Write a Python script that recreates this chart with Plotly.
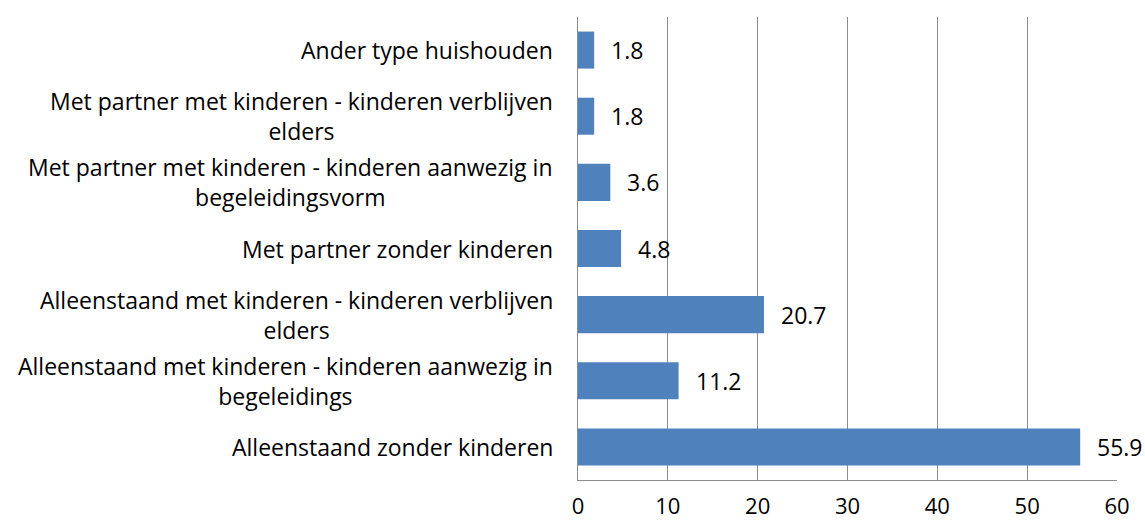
import plotly.graph_objects as go

categories = [
    "Alleenstaand zonder kinderen",
    "Alleenstaand met kinderen - kinderen aanwezig in<br>begeleidings",
    "Alleenstaand met kinderen - kinderen verblijven<br>elders",
    "Met partner zonder kinderen",
    "Met partner met kinderen - kinderen aanwezig in<br>begeleidingsvorm",
    "Met partner met kinderen - kinderen verblijven<br>elders",
    "Ander type huishouden",
]
values = [55.9, 11.2, 20.7, 4.8, 3.6, 1.8, 1.8]
x_ticks = [0, 10, 20, 30, 40, 50, 60]

FONT = "Open Sans"
FS = 23
fig = go.Figure(go.Bar(
    x=values, y=categories, orientation="h",
    marker=dict(color="#4F81BD", line=dict(width=0)),
    hoverinfo="skip",
))

annotations = []
for c, v in zip(categories, values):
    annotations.append(dict(
        x=0, xref="paper", y=c, yref="y", text=c, showarrow=False,
        xanchor="right", yanchor="middle", align="center", xshift=-23,
        font=dict(family=FONT, size=FS, color="#000000"),
    ))
    annotations.append(dict(
        x=v, xref="x", y=c, yref="y", text=f"{v:.1f}", showarrow=False,
        xanchor="left", yanchor="middle", xshift=15,
        font=dict(family=FONT, size=FS, color="#000000"),
    ))

fig.update_layout(
    width=1145, height=524,
    margin=dict(l=578, r=28, t=17, b=44),
    paper_bgcolor="white", plot_bgcolor="white",
    showlegend=False, bargap=0.44,
    annotations=annotations,
    font=dict(family=FONT, size=FS, color="#000000"),
)
fig.update_xaxes(
    range=[0, 60], tickvals=x_ticks, showgrid=True, gridcolor="#8C8C8C", gridwidth=1,
    showline=True, linecolor="#8C8C8C", linewidth=1, zeroline=False, automargin=False,
    ticks="", ticklabelstandoff=7, tickfont=dict(family=FONT, size=22, color="#000000"),
)
fig.update_yaxes(
    showticklabels=False, showgrid=False, showline=True, linecolor="#8C8C8C",
    linewidth=1, ticks="", automargin=False,
    categoryorder="array", categoryarray=categories,
)
fig.write_html(
    "out.html",
    config={"displayModeBar": False},
    post_script="document.body.style.margin='0';document.body.style.overflow='hidden';",
)
